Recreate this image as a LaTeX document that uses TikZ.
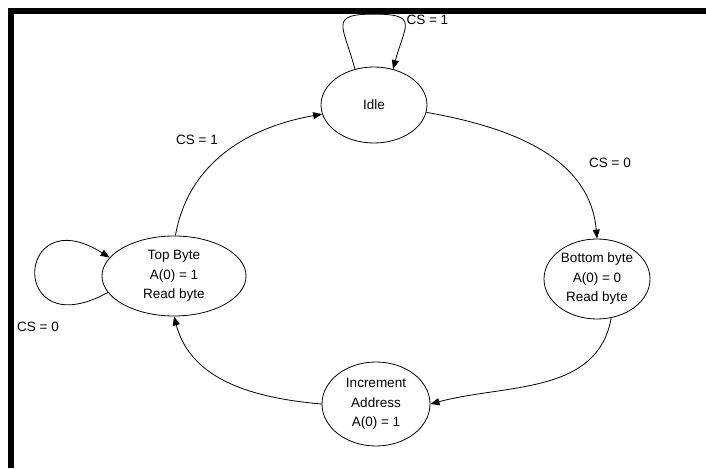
\documentclass[tikz,border=0pt]{standalone}
\usepackage{fontspec}
\setmainfont{Liberation Sans}
\usetikzlibrary{shapes.geometric, arrows.meta}

\begin{document}
\begin{tikzpicture}[x=1pt, y=1pt]
        % Define styles
        \tikzset{
            state/.style={ellipse, draw, line width=0.8pt, inner sep=0pt, align=center, font=\fontsize{13.5}{19.5}\selectfont},
            arrow/.style={-{Triangle[length=9pt,width=7pt]}, line width=0.8pt},
            cond/.style={font=\fontsize{13.5}{16}\selectfont},
            frame/.style={line width=6pt}
        }

        \useasboundingbox (0,0) rectangle (706,468);
        \draw[frame] (706,457) -- (11,457) -- (11,0);

        % Nodes
        \node[state, minimum width=106pt, minimum height=76pt] (state_idle) at (374,363) {Idle};
        \node[state, minimum width=144pt, minimum height=80pt] (state_top) at (174,192) {Top Byte\\A(0) = 1\\Read byte};
        \node[state, minimum width=106pt, minimum height=80pt] (state_bottom) at (597,189) {Bottom byte\\A(0) = 0\\Read byte};
        \node[state, minimum width=108pt, minimum height=84pt] (state_incr) at (376,64) {Increment\\Address\\A(0) = 1};

        % Arrows
        \draw[arrow] (state_idle.118) to[out=105, in=180, looseness=2] ++(19,55) to[out=0, in=75, looseness=2] (state_idle.62);
        \draw[arrow] (state_idle.-8) to[out=-10, in=95] (state_bottom.north);
        \draw[arrow] (state_bottom.-70) to[out=-100, in=15] (state_incr.east);
        \draw[arrow] (state_incr.west) to[out=175, in=-75] (state_top.south);
        \draw[arrow] (state_top.194) .. controls +(-100,-55) and +(-95,60) .. (state_top.164);
        \draw[arrow] (state_top.88) to[out=80, in=190] (state_idle.190);

        % Conditions
        \node[cond, anchor=west] (cond_idle) at (403,448) {CS = 1};
        \node[cond] (cond_bottom) at (610,305) {CS = 0};
        \node[cond] (cond_top) at (38,141) {CS = 0};
        \node[cond] (cond_left) at (197,328) {CS = 1};
\end{tikzpicture}
\end{document}
